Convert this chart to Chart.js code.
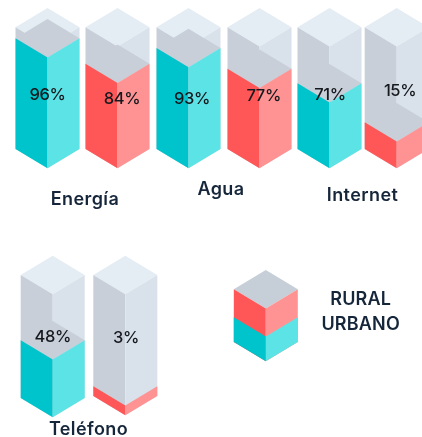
<!DOCTYPE html>
<html lang="es">
<head>
<meta charset="utf-8">
<style>
html,body{margin:0;padding:0;background:#fff;overflow:hidden}
canvas{display:block}
</style>
<script src="https://cdn.jsdelivr.net/npm/chart.js@4"></script>
</head>
<body>
<canvas id="c" width="422" height="437"></canvas>
<script>
// ---- data ----
const categories = ['Energía', 'Agua', 'Internet', 'Teléfono'];
const urbanPercent = [96, 93, 71, 48];
const ruralPercent = [84, 77, 15, 3];
// fill height of each drawn column (0–100 of column height)
const urbanDrawnLevel = [91, 83, 54, 47];
const ruralDrawnLevel = [70, 66, 22, 8];
const legendLabels = ['RURAL', 'URBANO'];

// ---- layout ----
const W = 422, H = 437;
const columnWidth = 64, slant = 19.3;
const urbanCentre = [47.5, 188.5, 329.5, 52.7];
const ruralCentre = [117.5, 259.5, 396.7, 125.3];
const urbanAxis = ['yTop', 'yTop', 'yTop', 'yPhoneU'];
const ruralAxis = ['yTop', 'yTop', 'yTop', 'yPhoneR'];
const categoryPos = [[85, 199.5], [221, 189.5], [362.5, 195.5], [88.5, 429.5]];
const urbanLabelPos = [[47.5, 95], [192, 99], [330, 95], [52.7, 337]];
const ruralLabelPos = [[122, 99], [263.7, 96], [400, 91], [126, 338]];
const legendPos = [[360.7, 299.5], [360.7, 325]];
const legendCentre = 265.8, legendUrbanShare = 47;

const colors = {
  urban: ['#00c4cc', '#5ce3e6'],
  rural: ['#ff5757', '#ff9393'],
  emptyFaces: ['#c8cfd8', '#d9e1ea'],
  emptyTop: '#e4ecf4',
  surface: '#c8cfd8',
  legendTop: '#c6ced8',
  labelText: '#15191e',
  categoryText: '#16263a'
};
const minSurfaceLevel = 10;

// A y axis spanning 0–100 between two pixel rows of the canvas.
function axis(basePx, topPx) {
  const perUnit = (basePx - topPx) / 100;
  return { type: 'linear', display: false, min: -(H - basePx) / perUnit, max: basePx / perUnit };
}

// Bars drawn as isometric prisms from the element geometry computed by the scales.
class IsoColumn extends Chart.BarController {
  draw() {
    const ctx = this.chart.ctx, ds = this.getDataset();
    const poly = (fill, pts) => {
      ctx.fillStyle = fill;
      ctx.beginPath();
      pts.forEach((p, i) => i ? ctx.lineTo(p[0], p[1]) : ctx.moveTo(p[0], p[1]));
      ctx.closePath();
      ctx.fill();
    };
    this._cachedMeta.data.forEach(el => {
      const x = el.x, y = el.y, b = el.base, h = el.width / 2, s = slant;
      if (ds.top) poly(ds.top, [[x - h, y], [x, y - s], [x + h, y], [x, y + s]]);
      poly(ds.faces[0], [[x - h, y], [x, y + s], [x, b + s], [x - h, b]]);
      poly(ds.faces[1], [[x + h, y], [x, y + s], [x, b + s], [x + h, b]]);
    });
  }
}
IsoColumn.id = 'isoColumn';
IsoColumn.defaults = Chart.BarController.defaults;
IsoColumn.overrides = Chart.BarController.overrides;
Chart.register(IsoColumn);

// ---- datasets ----
const common = { barThickness: columnWidth, grouped: false };
const datasets = [];
function column(cx, level, axisId, faces) {
  datasets.push({ ...common, data: [{ x: cx, y: 100 }], yAxisID: axisId, order: 3,
                  faces: colors.emptyFaces, top: colors.emptyTop });
  datasets.push({ ...common, data: [{ x: cx, y: level }], yAxisID: axisId, order: 2, faces: faces,
                  top: level >= minSurfaceLevel ? colors.surface : null });
}
categories.forEach((_, i) => {
  column(urbanCentre[i], urbanDrawnLevel[i], urbanAxis[i], colors.urban);
  column(ruralCentre[i], ruralDrawnLevel[i], ruralAxis[i], colors.rural);
});
// legend swatch: a rural prism with an urban prism inside its lower part
datasets.push({ ...common, data: [{ x: legendCentre, y: 100 }], yAxisID: 'yLegend', order: 2,
                faces: colors.rural, top: colors.legendTop });
datasets.push({ ...common, data: [{ x: legendCentre, y: legendUrbanShare }], yAxisID: 'yLegend', order: 1,
                faces: colors.urban, top: null });

// ---- text ----
const textPlugin = {
  id: 'isoText',
  afterDatasetsDraw(chart) {
    const ctx = chart.ctx;
    ctx.save();
    ctx.textAlign = 'center';
    ctx.textBaseline = 'middle';
    const put = (t, p, font, color, sp) => {
      ctx.font = font;
      ctx.fillStyle = color;
      ctx.letterSpacing = sp || '0px';
      ctx.fillText(t, p[0], p[1]);
    };
    const pctFont = '500 16.5px Inter, "Open Sans", sans-serif';
    const catFont = '600 18px Inter, "Open Sans", sans-serif';
    categories.forEach((c, i) => {
      put(urbanPercent[i] + '%', urbanLabelPos[i], pctFont, colors.labelText, '-0.4px');
      put(ruralPercent[i] + '%', ruralLabelPos[i], pctFont, colors.labelText, '-0.4px');
      put(c, categoryPos[i], catFont, colors.categoryText, '0.4px');
    });
    legendLabels.forEach((l, i) => put(l, legendPos[i], '600 18px Inter, "Open Sans", sans-serif', colors.categoryText, '0.2px'));
    ctx.restore();
  }
};

new Chart(document.getElementById('c'), {
  type: 'isoColumn',
  data: { datasets },
  options: {
    responsive: false,
    animation: false,
    events: [],
    layout: { padding: 0 },
    plugins: { legend: { display: false }, tooltip: { enabled: false } },
    scales: {
      x: { type: 'linear', display: false, min: 0, max: W, offset: false },
      yTop: axis(149, 27.3),
      yPhoneU: axis(398, 275),
      yPhoneR: axis(396, 275),
      yLegend: axis(342, 289.3)
    }
  },
  plugins: [textPlugin]
});
</script>
</body>
</html>
